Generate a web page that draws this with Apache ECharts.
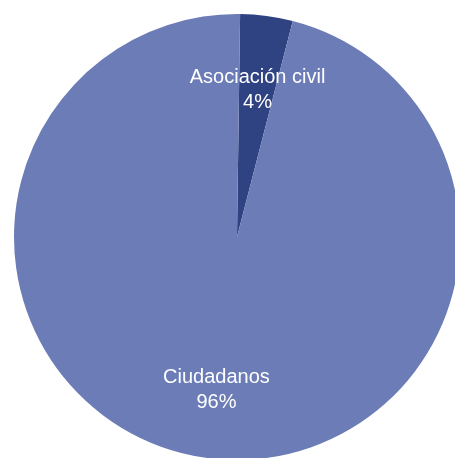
<!DOCTYPE html>
<html>
<head>
<meta charset="utf-8">
<script src="https://cdn.jsdelivr.net/npm/echarts@6/dist/echarts.min.js"></script>
<style>
html,body{margin:0;padding:0;background:#fff;}
#chart{width:455px;height:458px;}
</style>
</head>
<body>
<div id="chart"></div>
<script>
const categories = ['Asociación civil', 'Ciudadanos'];
const values = [3.8, 96.2];
const colors = ['#2f4282', '#6c7cb7'];

const data = categories.map((c, i) => ({ name: c, value: values[i], itemStyle: { color: colors[i] } }));
const labelData = categories.map((c, i) => ({ name: c, value: values[i] }));

const chart = echarts.init(document.getElementById('chart'), null, { renderer: 'canvas' });
chart.setOption({
  animation: false,
  backgroundColor: '#ffffff',
  series: [
    {
      type: 'pie',
      center: [237, 237],
      radius: [0, 223],
      startAngle: 89.2,
      clockwise: true,
      silent: true,
      label: { show: false },
      labelLine: { show: false },
      itemStyle: { borderWidth: 0 },
      data: data
    },
    {
      type: 'pie',
      center: [237, 237],
      radius: [80, 223],
      startAngle: 89.2,
      clockwise: true,
      silent: true,
      itemStyle: { color: 'rgba(0,0,0,0)', borderWidth: 0 },
      label: {
        show: true,
        position: 'inside',
        color: '#ffffff',
        fontFamily: 'Liberation Sans, Arial, sans-serif',
        fontSize: 20,
        lineHeight: 25,
        formatter: p => p.name + '\n' + Math.round(p.percent) + '%'
      },
      labelLayout: p => (p.dataIndex === 0 ? { dy: 6 } : {}),
      labelLine: { show: false },
      data: labelData
    }
  ]
});
</script>
</body>
</html>
